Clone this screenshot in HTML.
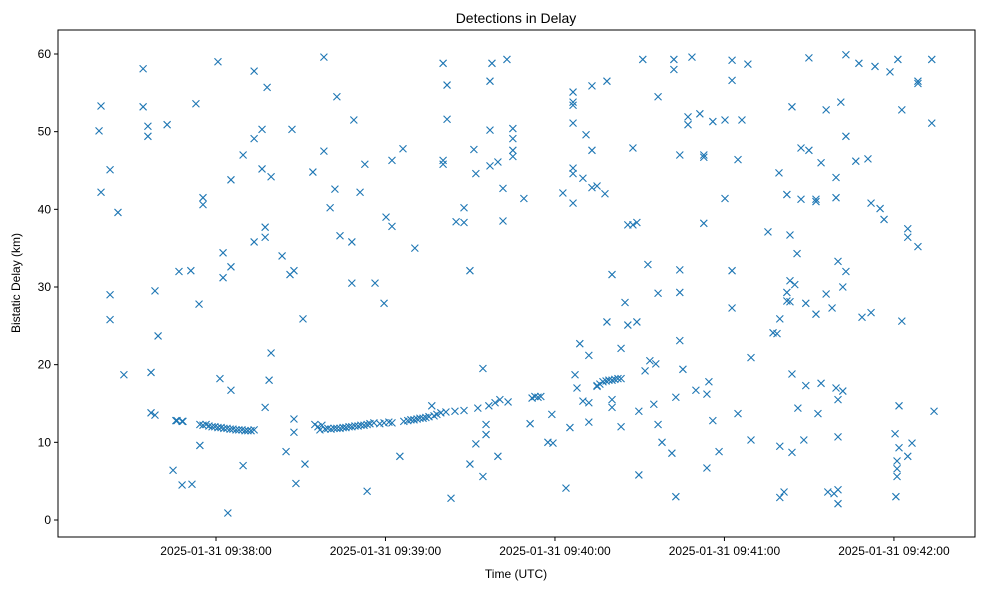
<!DOCTYPE html>
<html><head><meta charset="utf-8"><style>
body{margin:0;background:#fff;font-family:"Liberation Sans","DejaVu Sans",sans-serif;}
</style></head><body>
<svg id="chart" width="985" height="590" xmlns="http://www.w3.org/2000/svg" font-family="Liberation Sans, DejaVu Sans, sans-serif">
<rect width="985" height="590" fill="#fff"/>
<text x="516" y="23" font-size="14" text-anchor="middle">Detections in Delay</text>
<text x="516" y="578" font-size="12" text-anchor="middle">Time (UTC)</text>
<text x="20" y="283" font-size="12" text-anchor="middle" transform="rotate(-90 20 283)">Bistatic Delay (km)</text>
<g id="marks"></g>
<g id="axes"></g>
<rect x="58" y="30" width="917" height="507" fill="none" stroke="#000" stroke-width="1"/>
</svg>
<script>
// seconds after 09:37:00 UTC
const times=[18.6,19.3,19.3,22.5,22.5,22.5,25.3,27.4,34.2,34.2,35.9,35.9,37.0,37.0,38.4,38.4,39.5,42.7,44.8,46.2,46.9,48.0,48.0,51.1,51.5,52.9,54.0,54.3,55.4,55.4,
60.7,61.4,62.5,62.5,64.2,65.3,65.3,65.3,69.6,69.6,73.5,73.5,73.5,76.3,76.3,77.4,77.4,77.4,78.1,78.8,79.5,79.5,83.4,84.8,86.2,86.9,87.6,87.6,87.6,88.3,90.8,91.5,94.3,
98.2,98.2,100.4,102.1,102.8,103.9,108.1,108.1,108.8,111.0,112.7,113.5,116.3,119.5,120.2,122.3,122.3,125.1,126.2,130.4,136.4,
140.4,140.4,140.4,141.8,141.8,143.2,145.0,147.8,147.8,149.9,149.9,151.3,152.0,152.0,154.5,154.5,155.6,155.6,157.0,157.0,157.0,157.7,159.8,159.8,161.6,161.6,163.0,165.1,165.1,165.1,165.1,169.0,171.2,
177.5,178.9,179.3,182.8,183.9,185.3,186.4,186.4,186.4,186.4,186.4,186.4,186.4,187.1,187.8,188.8,189.9,189.9,191.0,192.0,192.0,192.0,193.1,193.1,193.1,194.9,194.9,197.7,198.4,198.4,200.2,200.2,200.2,203.4,203.4,204.8,205.8,205.8,207.6,207.6,209.0,209.0,209.7,209.7,211.1,211.9,212.9,213.6,215.0,215.7,216.5,216.5,216.5,217.9,
221.4,222.1,222.1,222.8,222.8,224.2,224.2,224.2,224.2,225.3,227.1,227.1,228.5,229.9,231.3,232.7,232.7,232.7,233.8,233.8,234.5,235.9,235.9,238.1,240.2,240.2,242.7,242.7,242.7,242.7,244.8,244.8,246.2,248.3,249.4,249.4,
255.4,257.2,258.6,259.3,259.6,259.6,259.6,261.1,262.1,262.1,262.1,263.2,263.2,263.2,263.9,263.9,263.9,264.9,265.7,266.0,267.1,267.1,268.1,268.8,268.8,269.9,269.9,272.4,272.4,272.4,273.1,274.2,274.2,276.0,276.0,276.6,278.1,278.8,279.5,279.5,279.5,280.2,280.2,280.2,280.2,280.2,281.2,281.9,281.9,283.0,283.0,283.0,
286.5,287.6,288.7,290.8,291.9,291.9,293.3,295.1,296.5,298.6,300.4,300.7,301.1,301.1,301.1,301.4,301.8,301.8,302.8,302.8,304.9,304.9,304.9,306.4,308.5,308.5,308.5,313.4,313.4,314.2,
45.8,48.3,54.3,55.4,56.5,57.5,58.6,59.6,60.7,61.8,62.8,63.9,65.0,66.0,67.1,68.1,69.2,70.3,71.3,72.4,73.5,
95.0,96.1,96.8,97.5,98.6,99.6,100.7,101.8,102.8,103.9,105.0,106.0,107.1,108.1,109.2,110.3,111.3,112.4,113.5,114.5,115.9,118.0,119.5,121.2,122.3,
126.5,127.9,129.0,130.1,131.2,132.2,133.3,134.3,135.4,137.2,138.2,139.6,141.4,144.6,147.8,152.7,156.6,158.8,160.5,163.4,171.9,172.9,174.0,175.0,
194.9,195.9,197.0,198.1,199.1,200.2,201.2,202.3,203.4];
const delays=[50.1,53.3,42.2,45.1,29.0,25.8,39.6,18.7,58.1,53.2,50.7,49.4,13.8,19.0,13.5,29.5,23.7,50.9,6.4,12.8,32.0,4.5,12.7,32.1,4.6,53.6,27.8,9.6,41.5,40.6,
59.0,18.2,31.2,34.4,0.9,43.8,32.6,16.7,47.0,7.0,57.8,49.1,35.8,50.3,45.2,37.7,36.4,14.5,55.7,18.0,44.2,21.5,34.0,8.8,31.6,50.3,32.1,11.3,13.0,4.7,25.9,7.2,44.8,
59.6,47.5,40.2,42.6,54.5,36.6,35.8,30.5,51.5,42.2,45.8,3.7,30.5,27.9,39.0,37.8,46.3,8.2,47.8,35.0,14.7,
45.8,58.8,46.3,56.0,51.6,2.8,38.4,40.2,38.3,32.1,7.2,47.7,44.6,9.8,19.5,5.6,11.0,12.3,56.5,50.2,45.6,58.8,8.2,46.1,38.5,42.7,59.3,50.4,47.6,46.8,49.1,41.4,12.4,
10.0,13.6,9.9,42.1,4.1,11.9,55.1,53.8,53.4,51.1,45.3,44.6,40.8,18.7,17.0,22.7,44.0,15.3,49.6,21.2,15.1,12.6,55.9,42.8,47.6,17.2,43.0,42.0,56.5,25.5,31.6,14.5,15.5,12.0,22.1,28.0,25.1,38.0,47.9,38.0,38.3,25.5,5.8,14.0,59.3,19.2,32.9,20.5,14.9,20.1,54.5,29.2,12.3,10.0,
8.6,59.3,58.0,15.8,3.0,47.0,32.2,29.3,23.1,19.4,51.9,50.9,59.6,16.7,52.3,47.0,46.7,38.2,6.7,16.2,17.8,51.3,12.8,8.8,51.5,41.4,56.6,59.2,32.1,27.3,46.4,13.7,51.5,58.7,10.3,20.9,
37.1,24.1,24.0,44.7,25.9,9.5,2.9,3.6,41.9,29.3,28.2,36.7,30.8,28.1,53.2,18.8,8.7,30.3,34.3,14.4,47.9,41.3,10.3,17.3,27.9,59.5,47.6,41.3,41.0,26.5,13.7,46.0,17.6,52.8,29.1,3.6,27.3,3.4,44.1,41.5,17.0,10.7,15.5,3.9,2.1,33.3,53.8,30.0,16.6,59.9,49.4,32.0,
46.2,58.8,26.1,46.5,26.7,40.8,58.4,40.1,38.7,57.7,11.1,3.0,7.6,6.6,5.6,59.3,14.7,9.3,52.8,25.6,37.5,36.4,8.2,9.9,56.5,56.2,35.2,59.3,51.1,14.0,
12.8,12.7,12.3,12.2,12.3,12.1,12.0,12.0,11.9,11.9,11.8,11.8,11.7,11.7,11.6,11.6,11.6,11.5,11.5,11.5,11.6,
12.3,12.0,11.6,12.2,11.7,11.8,11.7,11.8,11.8,11.8,11.9,11.9,12.0,12.0,12.1,12.1,12.2,12.2,12.3,12.4,12.5,12.4,12.5,12.6,12.5,
12.7,12.8,12.9,12.9,13.0,13.1,13.1,13.2,13.3,13.4,13.6,13.8,13.9,14.0,14.1,14.4,14.7,15.1,15.5,15.2,15.7,15.9,15.8,15.9,
17.3,17.5,17.8,17.9,18.0,18.0,18.1,18.2,18.2];
const yTicks=[0,10,20,30,40,50,60];
const xTickSecs=[60,120,180,240,300];
const xTickLabels=["2025-01-31 09:38:00","2025-01-31 09:39:00","2025-01-31 09:40:00","2025-01-31 09:41:00","2025-01-31 09:42:00"];

const L=58,R=975,T=30,B=537;
const tMin=4.07,tMax=328.7,vMin=-2.19,vMax=63.09;
function xs(t){return L+(t-tMin)/(tMax-tMin)*(R-L);}
function ys(v){return B-(v-vMin)/(vMax-vMin)*(B-T);}
const NS="http://www.w3.org/2000/svg";
const marks=document.getElementById('marks');
const n=Math.min(times.length,delays.length);
for(let i=0;i<n;i++){
  const x=xs(times[i]),y=ys(delays[i]),s=3.5;
  const p=document.createElementNS(NS,'path');
  p.setAttribute('d',`M${x-s},${y-s}L${x+s},${y+s}M${x-s},${y+s}L${x+s},${y-s}`);
  p.setAttribute('stroke','#1f77b4');p.setAttribute('stroke-width','1.1');p.setAttribute('fill','none');
  
  
  marks.appendChild(p);
}
const axes=document.getElementById('axes');
yTicks.forEach(v=>{
  const y=ys(v);
  const l=document.createElementNS(NS,'line');
  l.setAttribute('x1',L-4);l.setAttribute('x2',L);l.setAttribute('y1',y);l.setAttribute('y2',y);l.setAttribute('stroke','#000');
  
  
  axes.appendChild(l);
  const t=document.createElementNS(NS,'text');
  t.setAttribute('x',L-7);t.setAttribute('y',y+4);t.setAttribute('font-size','12');t.setAttribute('text-anchor','end');
  t.textContent=v;
  
  
  axes.appendChild(t);
});
xTickSecs.forEach((s,i)=>{
  const x=xs(s);
  const l=document.createElementNS(NS,'line');
  l.setAttribute('x1',x);l.setAttribute('x2',x);l.setAttribute('y1',B);l.setAttribute('y2',B+4);l.setAttribute('stroke','#000');
  
  
  axes.appendChild(l);
  const t=document.createElementNS(NS,'text');
  t.setAttribute('x',x);t.setAttribute('y',B+18);t.setAttribute('font-size','12');t.setAttribute('text-anchor','middle');
  t.textContent=xTickLabels[i];
  
  
  axes.appendChild(t);
});
</script>
</body></html>
